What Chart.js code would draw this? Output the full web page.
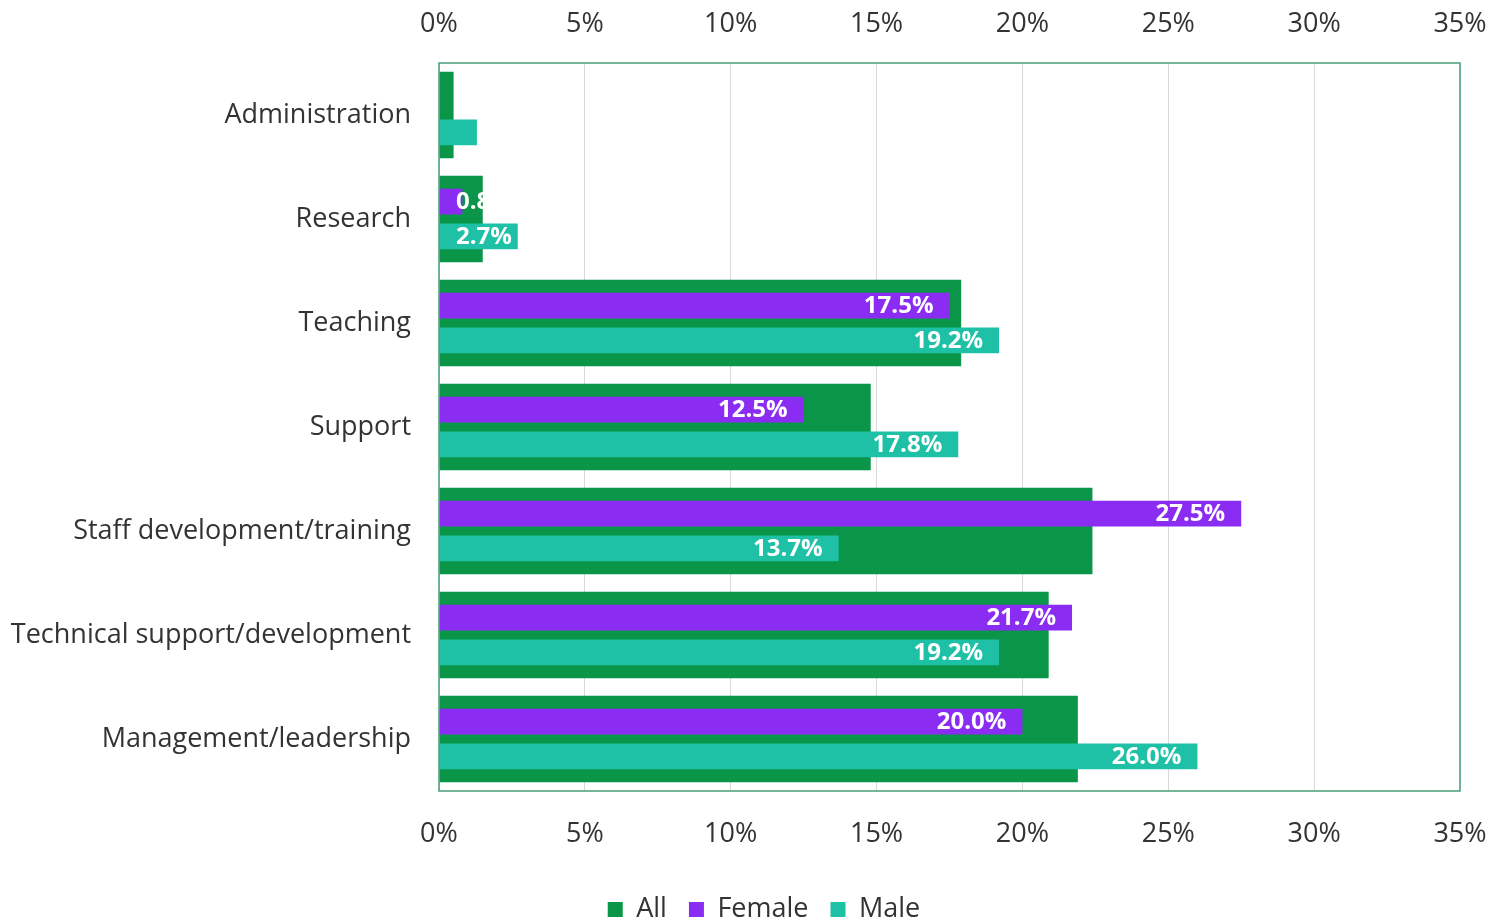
<!DOCTYPE html>
<html lang="en">
<head>
    <meta charset="UTF-8">
    <title>Roles by gender</title>
    <script src="https://cdn.jsdelivr.net/npm/chart.js@4"></script>
    <style>
        html, body { margin: 0; padding: 0; background: #ffffff; }
        #box { width: 1492px; height: 919px; }
    </style>
</head>
<body>
    <div id="box"><canvas id="myChart"></canvas></div>

<script>
    // data
    var categorias = ['Administration', 'Research', 'Teaching', 'Support',
        'Staff development/training', 'Technical support/development', 'Management/leadership'];
    var valoresAll = [0.5, 1.5, 17.9, 14.8, 22.4, 20.9, 21.9];
    var valoresFemale = [0, 0.8, 17.5, 12.5, 27.5, 21.7, 20.0];
    var valoresMale = [1.3, 2.7, 19.2, 17.8, 13.7, 19.2, 26.0];
    var ticksX = [0, 5, 10, 15, 20, 25, 30, 35];

    var verde = '#0a9548';
    var roxo = '#8b2cf2';
    var teal = '#1fc1a6';
    var fonte = "'Open Sans', sans-serif";

    // white labels at the inner end of the female / male bars
    const rotulos = {
        id: 'rotulos',
        afterDatasetsDraw(chart) {
            const ctx = chart.ctx;
            const x0 = chart.scales.x.getPixelForValue(0);
            ctx.save();
            ctx.font = 'bold 24px ' + fonte;
            ctx.fillStyle = '#ffffff';
            ctx.textBaseline = 'middle';
            [1, 2].forEach(function (d) {
                const meta = chart.getDatasetMeta(d);
                meta.data.forEach(function (bar, i) {
                    if (i == 0) return; // no labels on Administration
                    const v = chart.data.datasets[d].data[i];
                    const txt = v.toFixed(1) + '%';
                    const w = ctx.measureText(txt).width;
                    let x = Math.max(bar.x - 16 - w, x0 + 17);
                    ctx.fillText(txt, x, bar.y + 1);
                });
            });
            ctx.restore();
        }
    };

    // green frame round the plot area, legend nudged right and down
    const moldura = {
        id: 'moldura',
        afterLayout(chart) {
            chart.legend.left += 68;
            chart.legend.top += 14;
            chart.legend.bottom += 14;
        },
        afterDraw(chart) {
            const a = chart.chartArea;
            const ctx = chart.ctx;
            ctx.save();
            ctx.strokeStyle = '#4aa07a';
            ctx.lineWidth = 1.5;
            ctx.strokeRect(a.left, a.top, a.right - a.left, a.bottom - a.top);
            ctx.restore();
        }
    };

    Chart.defaults.font.family = fonte;
    Chart.defaults.color = '#333333';

    const data = {
        labels: categorias,
        datasets: [{
            label: 'All',
            data: valoresAll,
            backgroundColor: verde,
            order: 1,
            grouped: false,
            categoryPercentage: 1,
            barPercentage: 0.83
        }, {
            label: 'Female',
            data: valoresFemale,
            backgroundColor: roxo,
            order: 0,
            categoryPercentage: 0.67,
            barPercentage: 0.74
        }, {
            label: 'Male',
            data: valoresMale,
            backgroundColor: teal,
            order: 0,
            categoryPercentage: 0.67,
            barPercentage: 0.74
        }]
    };

    function fmtPct(v) { return v + '%'; }
    function semPadding(s) { s.paddingLeft = 0; s.paddingRight = 0; }

    const config = {
        type: 'bar',
        data: data,
        options: {
            indexAxis: 'y',
            responsive: false,
            animation: false,
            layout: { padding: { left: 0, right: 32, top: 0, bottom: 0 } },
            scales: {
                x: {
                    position: 'bottom',
                    min: 0, max: 35,
                    afterBuildTicks: function (s) { s.ticks = ticksX.map(function (v) { return { value: v }; }); },
                    ticks: { padding: 27, font: { size: 27 }, color: '#333333', callback: fmtPct },
                    grid: { color: '#d9d9d9', drawTicks: false },
                    border: { display: false },
                    afterFit: function (s) { s.height = 69; semPadding(s); }
                },
                x2: {
                    position: 'top',
                    min: 0, max: 35,
                    afterBuildTicks: function (s) { s.ticks = ticksX.map(function (v) { return { value: v }; }); },
                    ticks: { padding: 22, font: { size: 27 }, color: '#333333', callback: fmtPct },
                    grid: { display: false, drawTicks: false },
                    border: { display: false },
                    afterFit: function (s) { s.height = 63; semPadding(s); }
                },
                y: {
                    position: 'left',
                    offset: true,
                    ticks: { font: { size: 27 }, color: '#333333', padding: 28 },
                    grid: { display: false, drawTicks: false },
                    border: { display: false },
                    afterFit: function (s) { s.width = 439; }
                }
            },
            plugins: {
                legend: {
                    position: 'bottom',
                    labels: {
                        sort: function (a, b) { return a.datasetIndex - b.datasetIndex; },
                        boxWidth: 15,
                        boxHeight: 15,
                        padding: 22,
                        font: { size: 27 },
                        color: '#333333'
                    }
                },
                tooltip: { enabled: false }
            }
        },
        plugins: [rotulos, moldura]
    };

    const canvas = document.getElementById('myChart');
    canvas.width = 1492;
    canvas.height = 919;
    const myChart = new Chart(canvas, config);
</script>
</body>
</html>
